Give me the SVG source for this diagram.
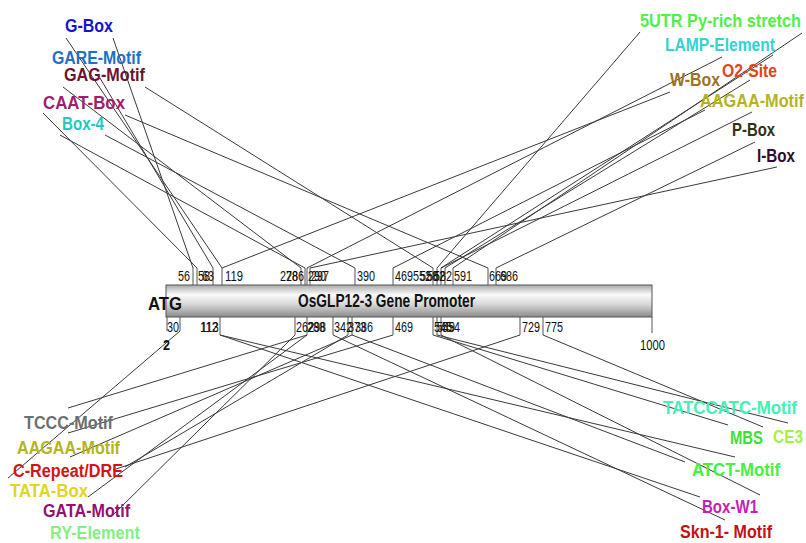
<svg xmlns="http://www.w3.org/2000/svg" width="806" height="543" viewBox="0 0 806 543">
<defs>
<linearGradient id="barg" x1="0" y1="0" x2="0" y2="1">
<stop offset="0" stop-color="#a8a8a8"/>
<stop offset="0.3" stop-color="#fafafa"/>
<stop offset="0.6" stop-color="#d8d8d8"/>
<stop offset="1" stop-color="#8a8a8a"/>
</linearGradient>
</defs>
<style>
.lbl{font-family:"Liberation Sans",Arial,sans-serif;font-weight:bold;font-size:18px}
.num{font-family:"Liberation Sans",Arial,sans-serif;font-size:14.5px;fill:#111}
.c{fill:none;stroke:#3a3a3a;stroke-width:1}
.t{fill:none;stroke:#555;stroke-width:1}
</style>
<rect width="806" height="543" fill="#fff"/>

<g id="connectors">
<path class="t" d="M193 285V268M197 285V268M213 285V268M222 285V268M301 285V268M305 285V268M307 285V268M310 285V268M355 285V268M393 285V268M433 285V268M437 285V268M441 285V268M445 285V268M453 285V268M488 285V268M496 285V268"/>
<path class="t" d="M167 317V331M180 317V331M220 317V335M295 317V335M307 317V335M333 317V335M348 317V335M352 317V335M393 317V335M433 317V335M437 317V335M441 317V335M520 317V335M543 317V335M652 317V333"/>
<path class="c" d="M66 38L222 268M113 38L193 268M43 113L197 268M100 78L213 268M63 87L301 268M145 87L433 268M60 135L305 268M105 135L355 268M125 115L488 268"/>
<path class="c" d="M640 32L437 268M802 33L453 268M722 57L307 268M773 55L441 268M670 92L222 268M750 80L445 268M752 112L441 268M705 110L393 268M755 142L496 268M777 167L310 268"/>
<path class="c" d="M180 331L8 478M220 335L735 457M220 335L700 497M307 335L68 408M295 335L113 515M307 335L88 497M352 335L70 457M393 335L68 433M520 335L113 470M348 335L125 467M333 335L725 520M433 335L728 425M437 335L788 423M441 335L760 495M543 335L763 427M352 335L685 462"/>
</g>

<g id="promoter">
<rect x="166" y="285" width="486" height="32" fill="url(#barg)" stroke="#555" stroke-width="1"/>
<text x="148" y="310" class="lbl" font-size="20" textLength="34" lengthAdjust="spacingAndGlyphs" fill="#111">ATG</text>
<text x="298" y="307" class="lbl" font-size="15" textLength="177" lengthAdjust="spacingAndGlyphs" fill="#111">OsGLP12-3 Gene Promoter</text>
</g>

<g id="positions">
<text class="num" x="178" y="281" textLength="12" lengthAdjust="spacingAndGlyphs">56</text>
<text class="num" x="198" y="281" textLength="12" lengthAdjust="spacingAndGlyphs">58</text>
<text class="num" x="202" y="281" textLength="12" lengthAdjust="spacingAndGlyphs">63</text>
<text class="num" x="225" y="281" textLength="18" lengthAdjust="spacingAndGlyphs">119</text>
<text class="num" x="280" y="281" textLength="18" lengthAdjust="spacingAndGlyphs">278</text>
<text class="num" x="286" y="281" textLength="18" lengthAdjust="spacingAndGlyphs">286</text>
<text class="num" x="308" y="281" textLength="18" lengthAdjust="spacingAndGlyphs">290</text>
<text class="num" x="311" y="281" textLength="18" lengthAdjust="spacingAndGlyphs">297</text>
<text class="num" x="357" y="281" textLength="18" lengthAdjust="spacingAndGlyphs">390</text>
<text class="num" x="395" y="281" textLength="18" lengthAdjust="spacingAndGlyphs">469</text>
<text class="num" x="413" y="281" textLength="18" lengthAdjust="spacingAndGlyphs">552</text>
<text class="num" x="420" y="281" textLength="18" lengthAdjust="spacingAndGlyphs">558</text>
<text class="num" x="427" y="281" textLength="18" lengthAdjust="spacingAndGlyphs">562</text>
<text class="num" x="434" y="281" textLength="18" lengthAdjust="spacingAndGlyphs">582</text>
<text class="num" x="454" y="281" textLength="18" lengthAdjust="spacingAndGlyphs">591</text>
<text class="num" x="489" y="281" textLength="18" lengthAdjust="spacingAndGlyphs">669</text>
<text class="num" x="500" y="281" textLength="18" lengthAdjust="spacingAndGlyphs">686</text>

<text class="num" x="167" y="332" textLength="12" lengthAdjust="spacingAndGlyphs">30</text>
<text class="num" x="163" y="350" font-weight="bold" textLength="7" lengthAdjust="spacingAndGlyphs">2</text>
<text class="num" x="200" y="332" textLength="18" lengthAdjust="spacingAndGlyphs">112</text>
<text class="num" x="200.8" y="332" textLength="18" lengthAdjust="spacingAndGlyphs">113</text>
<text class="num" x="296" y="332" textLength="18" lengthAdjust="spacingAndGlyphs">262</text>
<text class="num" x="307" y="332" textLength="18" lengthAdjust="spacingAndGlyphs">288</text>
<text class="num" x="308" y="332" textLength="18" lengthAdjust="spacingAndGlyphs">298</text>
<text class="num" x="334" y="332" textLength="18" lengthAdjust="spacingAndGlyphs">342</text>
<text class="num" x="348" y="332" textLength="18" lengthAdjust="spacingAndGlyphs">373</text>
<text class="num" x="355" y="332" textLength="18" lengthAdjust="spacingAndGlyphs">386</text>
<text class="num" x="395" y="332" textLength="18" lengthAdjust="spacingAndGlyphs">469</text>
<text class="num" x="434" y="332" textLength="18" lengthAdjust="spacingAndGlyphs">545</text>
<text class="num" x="437" y="332" textLength="18" lengthAdjust="spacingAndGlyphs">549</text>
<text class="num" x="442" y="332" textLength="18" lengthAdjust="spacingAndGlyphs">554</text>
<text class="num" x="522" y="332" textLength="18" lengthAdjust="spacingAndGlyphs">729</text>
<text class="num" x="545" y="332" textLength="18" lengthAdjust="spacingAndGlyphs">775</text>
<text class="num" x="640" y="350" textLength="25" lengthAdjust="spacingAndGlyphs">1000</text>
</g>

<g id="n-gbox"><text class="lbl" x="65" y="32" textLength="48" lengthAdjust="spacingAndGlyphs" fill="#1414d2">G-Box</text></g>
<g id="n-gare"><text class="lbl" x="52" y="64" textLength="89" lengthAdjust="spacingAndGlyphs" fill="#2070c8">GARE-Motif</text></g>
<g id="n-gag"><text class="lbl" x="64" y="81" textLength="81" lengthAdjust="spacingAndGlyphs" fill="#6a1432">GAG-Motif</text></g>
<g id="n-caat"><text class="lbl" x="43" y="109" textLength="82" lengthAdjust="spacingAndGlyphs" fill="#a01e6e">CAAT-Box</text></g>
<g id="n-box4"><text class="lbl" x="62" y="130" textLength="42" lengthAdjust="spacingAndGlyphs" fill="#22c8c4">Box-4</text></g>

<g id="n-5utr"><text class="lbl" x="640" y="27" textLength="161" lengthAdjust="spacingAndGlyphs" fill="#52f046">5UTR Py-rich stretch</text></g>
<g id="n-lamp"><text class="lbl" x="665" y="51" textLength="110" lengthAdjust="spacingAndGlyphs" fill="#34d2d2">LAMP-Element</text></g>
<g id="n-o2"><text class="lbl" x="722" y="77" textLength="55" lengthAdjust="spacingAndGlyphs" fill="#e04420">O2-Site</text></g>
<g id="n-wbox"><text class="lbl" x="670" y="86" textLength="50" lengthAdjust="spacingAndGlyphs" fill="#a27022">W-Box</text></g>
<g id="n-aagaa1"><text class="lbl" x="700" y="107" textLength="104" lengthAdjust="spacingAndGlyphs" fill="#b4b420">AAGAA-Motif</text></g>
<g id="n-pbox"><text class="lbl" x="732" y="136" textLength="43" lengthAdjust="spacingAndGlyphs" fill="#323210">P-Box</text></g>
<g id="n-ibox"><text class="lbl" x="757" y="162" textLength="38" lengthAdjust="spacingAndGlyphs" fill="#320a32">I-Box</text></g>

<g id="n-tccc"><text class="lbl" x="24" y="429" textLength="89" lengthAdjust="spacingAndGlyphs" fill="#6e6e6e">TCCC-Motif</text></g>
<g id="n-aagaa2"><text class="lbl" x="17" y="454" textLength="103" lengthAdjust="spacingAndGlyphs" fill="#b4b420">AAGAA-Motif</text></g>
<g id="n-crepeat"><text class="lbl" x="13" y="477" textLength="110" lengthAdjust="spacingAndGlyphs" fill="#d41414">C-Repeat/DRE</text></g>
<g id="n-tata"><text class="lbl" x="10" y="497" textLength="78" lengthAdjust="spacingAndGlyphs" fill="#e2d422">TATA-Box</text></g>
<g id="n-gata"><text class="lbl" x="43" y="517" textLength="87" lengthAdjust="spacingAndGlyphs" fill="#921272">GATA-Motif</text></g>
<g id="n-ry"><text class="lbl" x="50" y="539" textLength="90" lengthAdjust="spacingAndGlyphs" fill="#84f084">RY-Element</text></g>

<g id="n-tatccatc"><text class="lbl" x="663" y="414" textLength="134" lengthAdjust="spacingAndGlyphs" fill="#44f0b4">TATCCATC-Motif</text></g>
<g id="n-mbs"><text class="lbl" x="730" y="444" textLength="33" lengthAdjust="spacingAndGlyphs" fill="#40e032">MBS</text></g>
<g id="n-ce3"><text class="lbl" x="773" y="443" textLength="30" lengthAdjust="spacingAndGlyphs" fill="#a4f046">CE3</text></g>
<g id="n-atct"><text class="lbl" x="692" y="476" textLength="88" lengthAdjust="spacingAndGlyphs" fill="#44f044">ATCT-Motif</text></g>
<g id="n-boxw1"><text class="lbl" x="702" y="513" textLength="56" lengthAdjust="spacingAndGlyphs" fill="#c422b4">Box-W1</text></g>
<g id="n-skn1"><text class="lbl" x="680" y="538" textLength="92" lengthAdjust="spacingAndGlyphs" fill="#c41212">Skn-1- Motif</text></g>
</svg>
